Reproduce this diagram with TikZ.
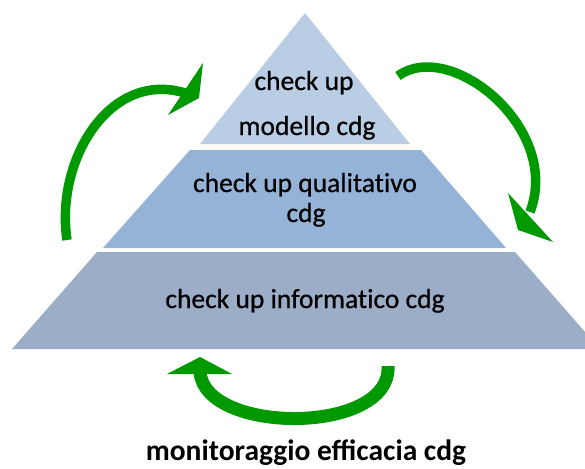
\documentclass[tikz,border=0pt]{standalone}
\usepackage{fontspec}
\setmainfont{Carlito}
\newfontfamily\tierfont[FakeBold=0.6,Ligatures=NoCommon]{Carlito}
\definecolor{tierA}{HTML}{B9CDE5}
\definecolor{tierB}{HTML}{95B3D7}
\definecolor{tierC}{HTML}{9BADC7}
\definecolor{arrowgreen}{HTML}{009900}
\begin{document}
\begin{tikzpicture}[x=1pt,y=-1pt,
  tiertext/.style={font=\tierfont\fontsize{27.5}{32}\selectfont, anchor=base, inner sep=0pt},
  captext/.style={font=\fontsize{29.5}{34}\selectfont\bfseries, anchor=base, inner sep=0pt},
  cyclearrow/.style={draw=arrowgreen, line width=9.5pt},
  arrowhead/.style={fill=arrowgreen}]
\useasboundingbox (0,0) rectangle (585,468);
\fill[white] (0,0) rectangle (585,468);
% pyramid tiers
\fill[tierA] (305,13) -- (410,144) -- (200,144) -- cycle;
\fill[tierB] (190,150) -- (421,150) -- (506,248) -- (103,248) -- cycle;
\fill[tierC] (97,252) -- (515,252) -- (600,349) -- (12,349) -- cycle;
% texts
\node[tiertext] (top1) at (304,90) {check up};
\node[tiertext] (top2) at (307,135) {modello cdg};
\node[tiertext] (mid1) at (305,192) {check up qualitativo};
\node[tiertext] (mid2) at (306,222) {cdg};
\node[tiertext] (bot) at (305,308) {check up informatico cdg};
\node[captext] (cap) at (306,460) {monitoraggio efficacia cdg};
% left arrow
\coordinate (lt) at (67,240);
\coordinate (le) at (185,93);
\draw[cyclearrow] (lt) .. controls (55,160) and (110,70) .. (le);
\fill[arrowhead] (168,115) -- (203,63) -- (199,98) -- cycle;
% right arrow
\coordinate (rt) at (398,76);
\coordinate (re) at (530,212);
\draw[cyclearrow] (rt) .. controls (450,38) and (562,128) .. (re);
\fill[arrowhead] (508,193) -- (553,242) -- (518,230) -- cycle;
% bottom arrow
\coordinate (bt) at (388,366);
\coordinate (be) at (200,372);
\draw[cyclearrow, line width=13pt] (bt) .. controls (392,435) and (205,435) .. (be);
\fill[arrowhead] (200,357) -- (232,374) -- (167,374) -- cycle;
\end{tikzpicture}
\end{document}
